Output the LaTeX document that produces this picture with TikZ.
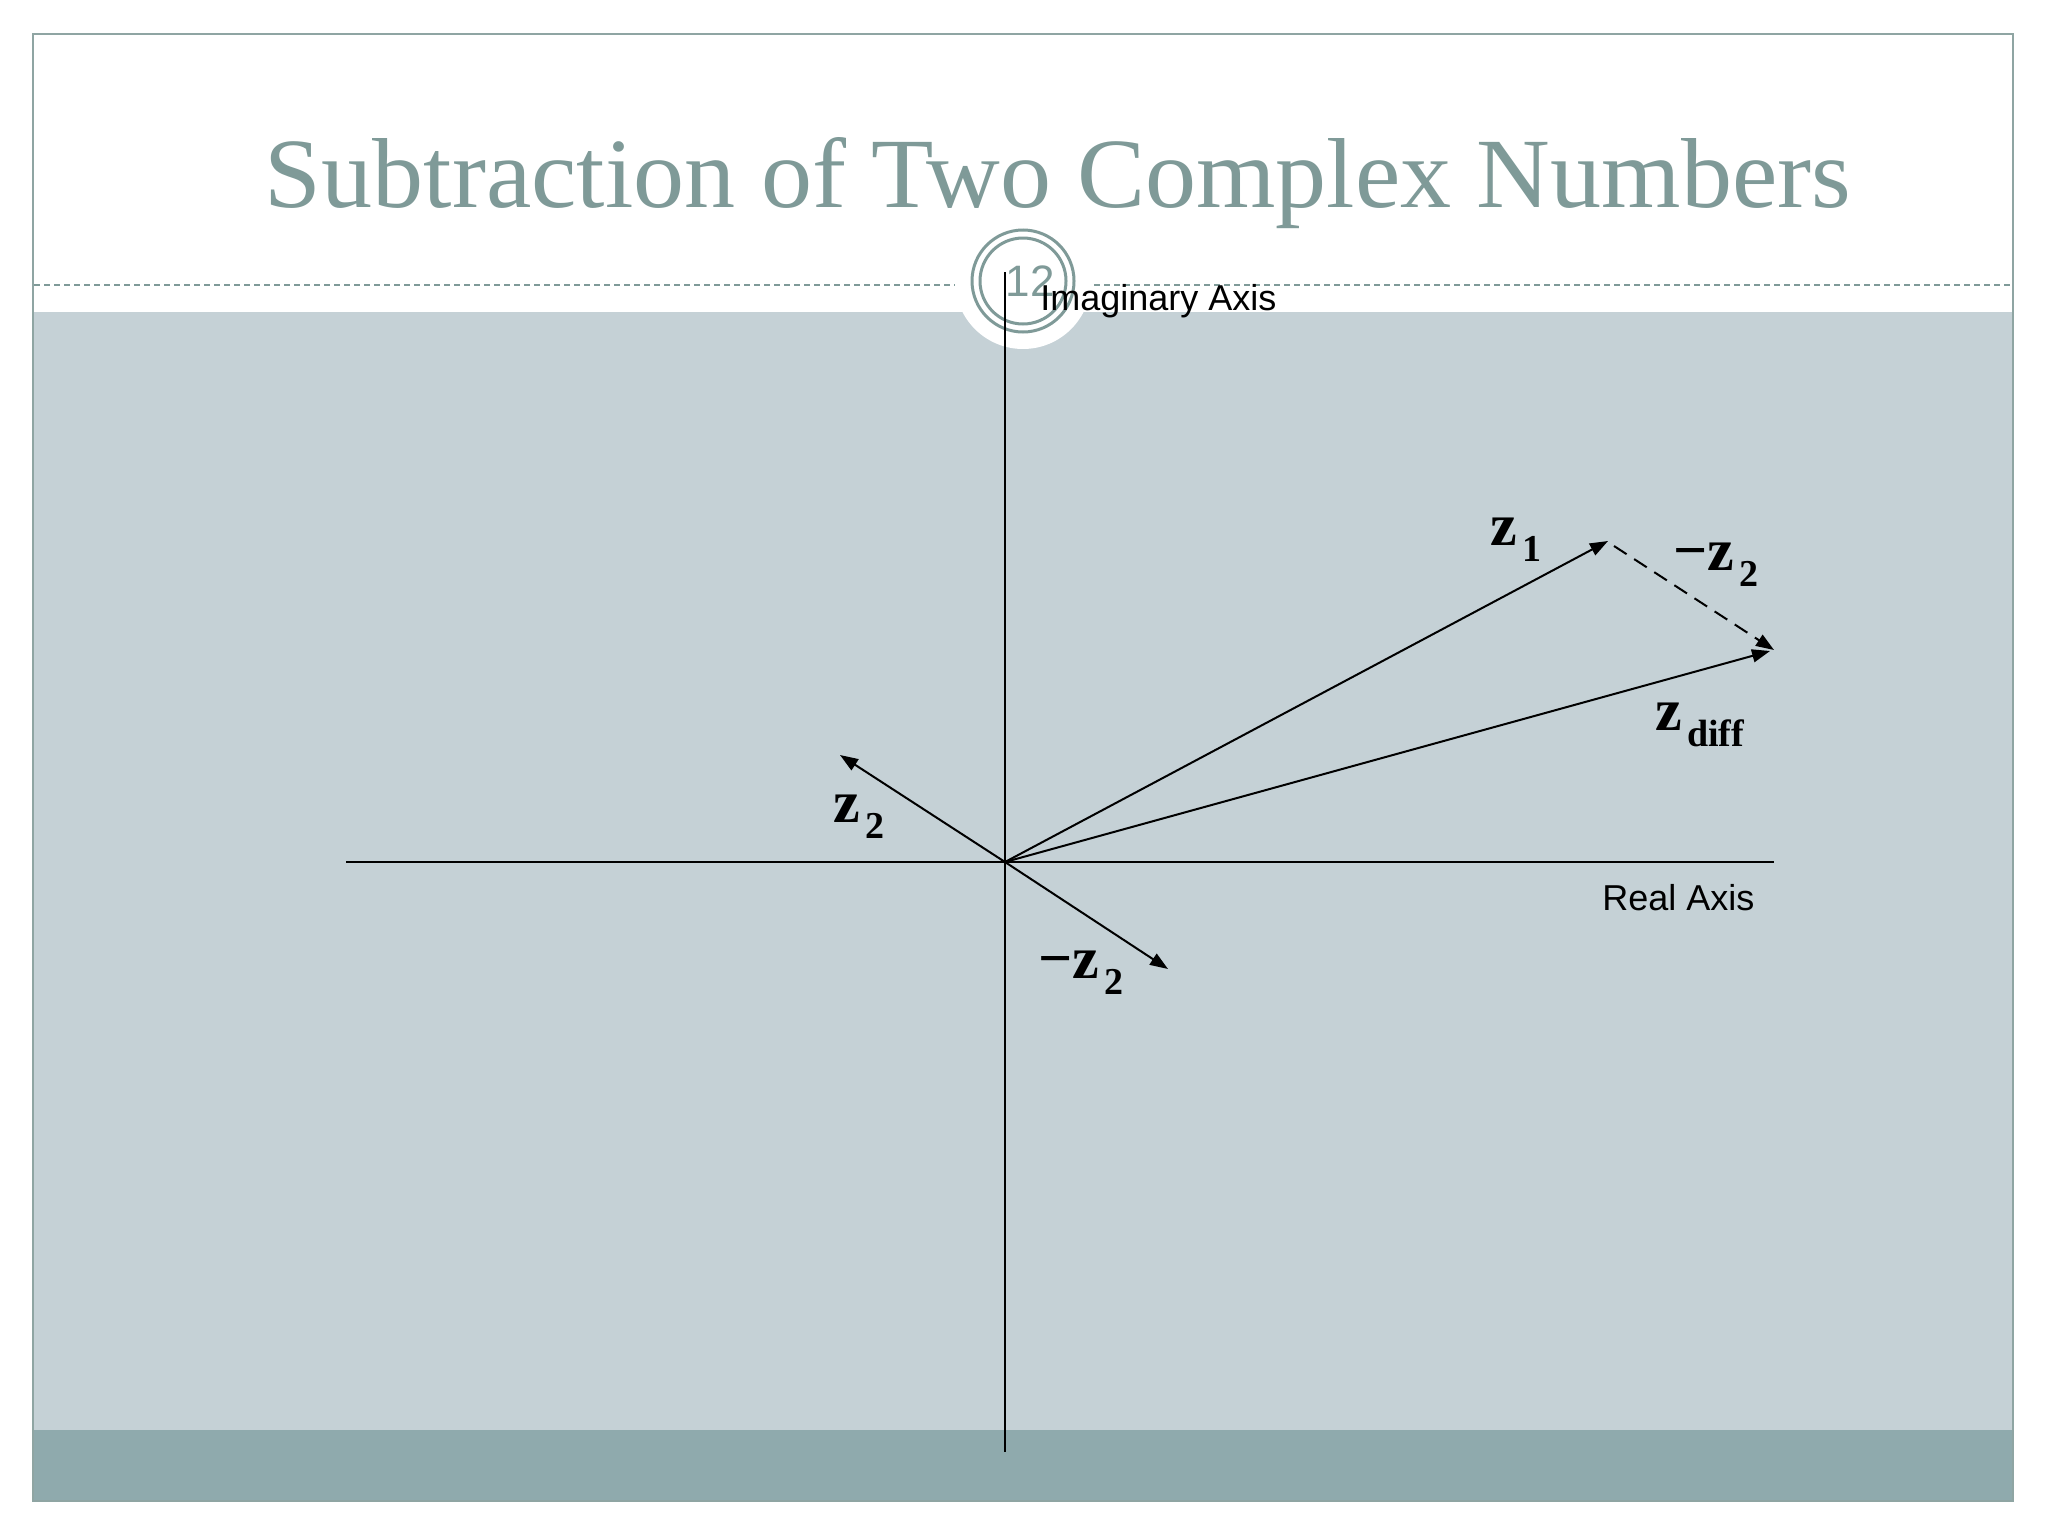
\documentclass[tikz,border=0pt]{standalone}
\usepackage{fontspec}
\setmainfont{Liberation Serif}
\newfontfamily\arialf{Liberation Sans}
\usetikzlibrary{arrows.meta}
\definecolor{bggray}{HTML}{C5D1D6}
\definecolor{bandgray}{HTML}{8FAAAD}
\definecolor{titlegray}{HTML}{7F9A98}
\definecolor{framegray}{HTML}{8FA5A3}
\newcommand\zlab[2]{{\fontsize{30}{30}\selectfont\bfseries #1z}\hspace{2.5pt}\raisebox{-8pt}{\fontsize{19}{19}\selectfont\bfseries #2}}
\tikzset{
  vec/.style={line width=1pt,-{Triangle[length=9pt,width=6.5pt]}},
  axis/.style={line width=0.9pt},
  axlab/.style={font=\arialf\fontsize{18}{18}\selectfont,inner sep=0pt},
  zl/.style={inner sep=0pt,anchor=base west},
}
\begin{document}
\begin{tikzpicture}[x=0.5pt,y=-0.5pt]
\useasboundingbox (0,0) rectangle (2048,1536);
\fill[white] (0,0) rectangle (2048,1536);
% slide frame
\fill[bggray] (33,312) rectangle (2013,1430);
\fill[bandgray] (33,1430) rectangle (2013,1501);
\draw[framegray,line width=1.2pt] (33,34) rectangle (2013,1501);
% header dashed line
\draw[titlegray,line width=0.6pt,dash pattern=on 3pt off 2pt] (34,285) -- (2012,285);
% slide number badge
\fill[white] (1023,281) circle[radius=68];
\draw[titlegray,line width=1.5pt] (1023,281) circle[radius=51];
\draw[titlegray,line width=1.5pt] (1023,281) circle[radius=43];
\node[titlegray,font=\arialf\fontsize{22}{22}\selectfont,inner sep=0pt] (num) at (1030,281) {12};
% title
\node[titlegray,anchor=base,inner sep=0pt] (title) at (1058,207) {\resizebox{793pt}{35pt}{Subtraction of Two Complex Numbers}};
% axes
\coordinate (O) at (1005,862);
\coordinate (ytop) at (1005,272);
\coordinate (ybot) at (1005,1452);
\coordinate (xl) at (346,862);
\coordinate (xr) at (1774,862);
\draw[axis] (ytop) -- (ybot);
\draw[axis] (xl) -- (xr);
\node[axlab,anchor=base west] (imlab) at (1040,310) {Imaginary Axis};
\node[axlab,anchor=base west] (relab) at (1602,910) {Real Axis};
% vectors
\coordinate (z1tip) at (1608,541);
\coordinate (z1start) at (1614,546);
\coordinate (difftip) at (1770,651);
\coordinate (m2tip) at (1774,650);
\coordinate (z2tip) at (840,755);
\coordinate (nz2tip) at (1168,969);
\draw[vec] (O) -- (z1tip);
\draw[vec] (O) -- (difftip);
\draw[vec] (O) -- (z2tip);
\draw[vec] (O) -- (nz2tip);
\draw[vec,dash pattern=on 7.5pt off 4.5pt] (z1start) -- (m2tip);
% labels
\node[zl] (lz1) at (1490,545) {\zlab{}{1}};
\node[zl] (lmz2a) at (1673,570) {\zlab{−}{2}};
\node[zl] (lzdiff) at (1655,730) {\zlab{}{diff}};
\node[zl] (lz2) at (833,822) {\zlab{}{2}};
\node[zl] (lmz2b) at (1038,978) {\zlab{−}{2}};
\end{tikzpicture}
\end{document}
